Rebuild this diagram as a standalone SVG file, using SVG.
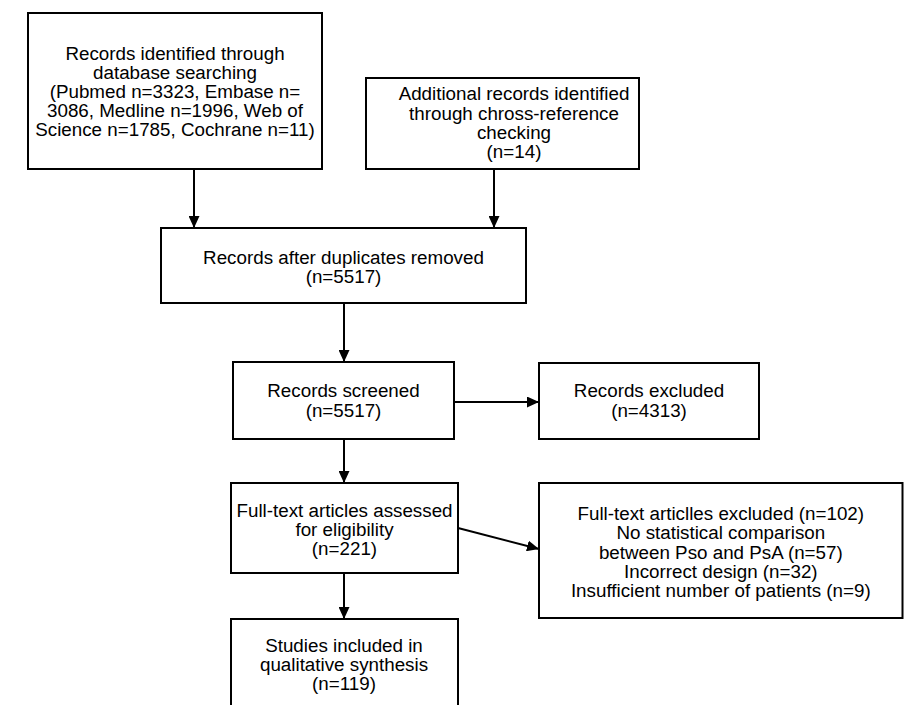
<svg xmlns="http://www.w3.org/2000/svg" width="909" height="705" viewBox="0 0 909 705">
<style>
.box{fill:#fff;stroke:#000;stroke-width:2}
.t{font-family:"Liberation Sans",Arial,sans-serif;font-size:18.8px;fill:#000;text-anchor:middle}
.c{stroke:#000;stroke-width:2;fill:none;marker-end:url(#ah)}
</style>
<defs>
<marker id="ah" markerUnits="userSpaceOnUse" markerWidth="12" markerHeight="11" refX="12" refY="5.5" orient="auto">
<path d="M0,0 L12,5.5 L0,11 z" fill="#000"/>
</marker>
</defs>
<rect width="909" height="705" fill="#fff"/>
<g id="identified">
<rect class="box" x="28" y="13" width="294" height="156"/>
<text class="t" x="175" y="59.5">Records identified through</text>
<text class="t" x="175" y="78.7">database searching</text>
<text class="t" x="175" y="97.9">(Pubmed n=3323, Embase n=</text>
<text class="t" x="175" y="117.1">3086, Medline n=1996, Web of</text>
<text class="t" x="175" y="136.3">Science n=1785, Cochrane n=11)</text>
</g>
<g id="additional">
<rect class="box" x="366" y="78" width="273" height="91"/>
<text class="t" x="514" y="100.3">Additional records identified</text>
<text class="t" x="514" y="119.6">through chross-reference</text>
<text class="t" x="514" y="138.9">checking</text>
<text class="t" x="514" y="158.2">(n=14)</text>
</g>
<g id="duplicates">
<rect class="box" x="161" y="228" width="365" height="75"/>
<text class="t" x="343.5" y="263.5">Records after duplicates removed</text>
<text class="t" x="343.5" y="283">(n=5517)</text>
</g>
<g id="screened">
<rect class="box" x="233" y="362" width="221" height="77"/>
<text class="t" x="343.5" y="397">Records screened</text>
<text class="t" x="343.5" y="416.5">(n=5517)</text>
</g>
<g id="excluded">
<rect class="box" x="539" y="363" width="220" height="76"/>
<text class="t" x="649" y="397">Records excluded</text>
<text class="t" x="649" y="416.5">(n=4313)</text>
</g>
<g id="fulltext">
<rect class="box" x="231" y="483" width="227" height="90"/>
<text class="t" x="344.5" y="516.5">Full-text articles assessed</text>
<text class="t" x="344.5" y="535.8">for eligibility</text>
<text class="t" x="344.5" y="555">(n=221)</text>
</g>
<g id="ftexcluded">
<rect class="box" x="539" y="483" width="363.5" height="135"/>
<text class="t" x="720.8" y="520">Full-text articlles excluded (n=102)</text>
<text class="t" x="720.8" y="539.2">No statistical comparison</text>
<text class="t" x="720.8" y="558.5">between Pso and PsA (n=57)</text>
<text class="t" x="720.8" y="577.8">Incorrect design (n=32)</text>
<text class="t" x="720.8" y="597">Insufficient number of patients (n=9)</text>
</g>
<g id="included">
<rect class="box" x="231" y="619" width="227" height="100"/>
<text class="t" x="344" y="651.7">Studies included in</text>
<text class="t" x="344" y="671">qualitative synthesis</text>
<text class="t" x="344" y="690.3">(n=119)</text>
</g>
<g id="connectors">
<line class="c" x1="194" y1="169" x2="194" y2="228"/>
<line class="c" x1="494" y1="169" x2="494" y2="228"/>
<line class="c" x1="344" y1="303" x2="344" y2="362"/>
<line class="c" x1="454" y1="402" x2="539" y2="402"/>
<line class="c" x1="344" y1="439" x2="344" y2="483"/>
<line class="c" x1="458" y1="528" x2="539" y2="549"/>
<line class="c" x1="344" y1="573" x2="344" y2="619"/>
</g>
</svg>
